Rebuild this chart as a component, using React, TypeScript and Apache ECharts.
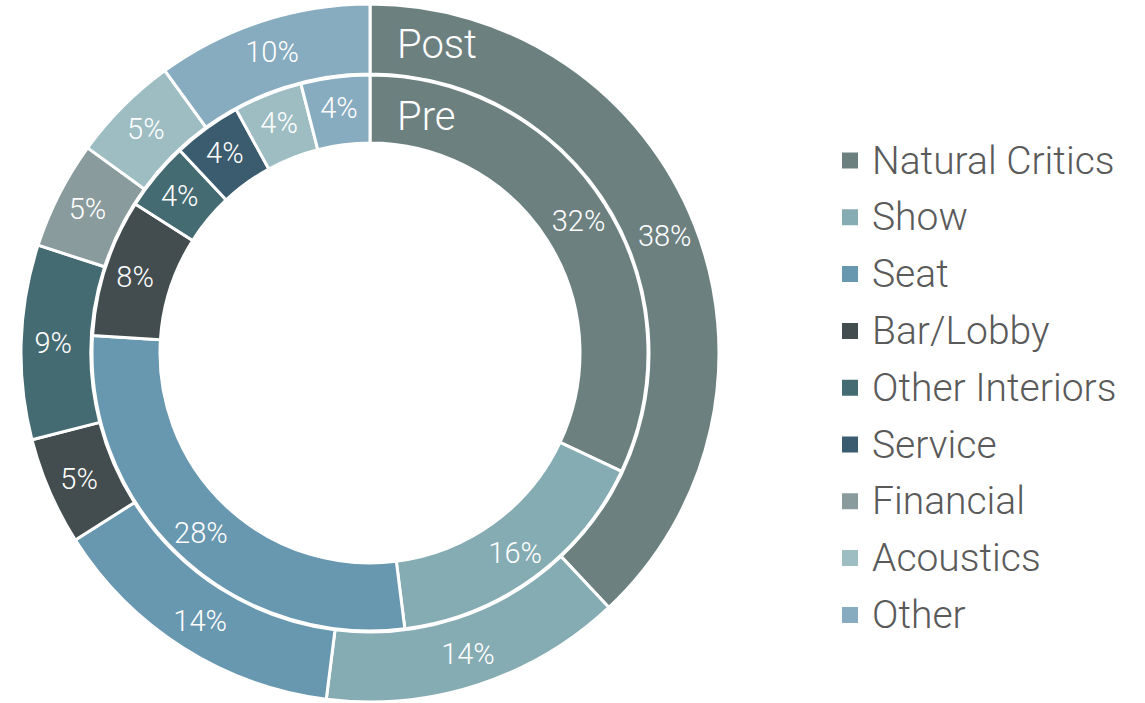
import React, { useEffect, useRef } from "react";
import * as echarts from "echarts";

const categories = [
  "Natural Critics",
  "Show",
  "Seat",
  "Bar/Lobby",
  "Other Interiors",
  "Service",
  "Financial",
  "Acoustics",
  "Other",
];
const colors = [
  "#6d8080",
  "#85abb3",
  "#6897b0",
  "#434c4f",
  "#456b72",
  "#3b5b6e",
  "#8a9b9d",
  "#9dbdc3",
  "#87abbf",
];
const postValues = [38, 14, 14, 5, 9, 0, 5, 5, 10];
const preValues = [32, 16, 28, 8, 4, 4, 0, 4, 4];

const FONT = "Roboto, 'Noto Sans', sans-serif";

function buildData(values: number[]) {
  return categories
    .map((name, i) => ({
      name,
      value: values[i],
      itemStyle: { color: colors[i] },
    }))
    .filter((d) => d.value > 0);
}

export default function App() {
  const ref = useRef<HTMLDivElement>(null);
  useEffect(() => {
    if (!ref.current) return;
    const chart = echarts.init(ref.current, undefined, { renderer: "svg" });
    const common = {
      type: "pie",
      center: [370, 353],
      startAngle: 90,
      clockwise: true,
      avoidLabelOverlap: false,
      itemStyle: { borderColor: "#ffffff", borderWidth: 3 },
      label: {
        show: true,
        position: "inside",
        formatter: "{c}%",
        color: "#ffffff",
        fontSize: 29,
        fontWeight: 300,
        fontFamily: FONT,
      },
      labelLine: { show: false },
      emphasis: { disabled: true },
    };
    chart.setOption({
      animation: false,
      backgroundColor: "#ffffff",
      legend: {
        orient: "vertical",
        left: 835,
        top: 136,
        data: categories,
        icon: "rect",
        itemWidth: 18,
        itemHeight: 18,
        itemGap: 17.8,
        selectedMode: false,
        textStyle: {
          color: "#5a5a5a",
          fontSize: 39,
          fontWeight: 300,
          fontFamily: FONT,
          lineHeight: 38,
          padding: [0, 0, 0, 8],
        },
      },
      graphic: [
        {
          type: "text",
          left: 397,
          top: 24,
          z: 100,
          zlevel: 1,
          style: { text: "Post", fill: "#ffffff", fontSize: 40, fontWeight: 300, fontFamily: FONT },
        },
        {
          type: "text",
          left: 397,
          top: 96,
          z: 100,
          zlevel: 1,
          style: { text: "Pre", fill: "#ffffff", fontSize: 40, fontWeight: 300, fontFamily: FONT },
        },
      ],
      series: [
        { ...common, name: "Post", radius: [279, 349], data: buildData(postValues) },
        { ...common, name: "Pre", radius: [210, 278], data: buildData(preValues) },
      ],
    });
    return () => chart.dispose();
  }, []);
  return (
    <div
      ref={ref}
      style={{ position: "fixed", left: 0, top: 0, width: 1145, height: 703 }}
    />
  );
}
